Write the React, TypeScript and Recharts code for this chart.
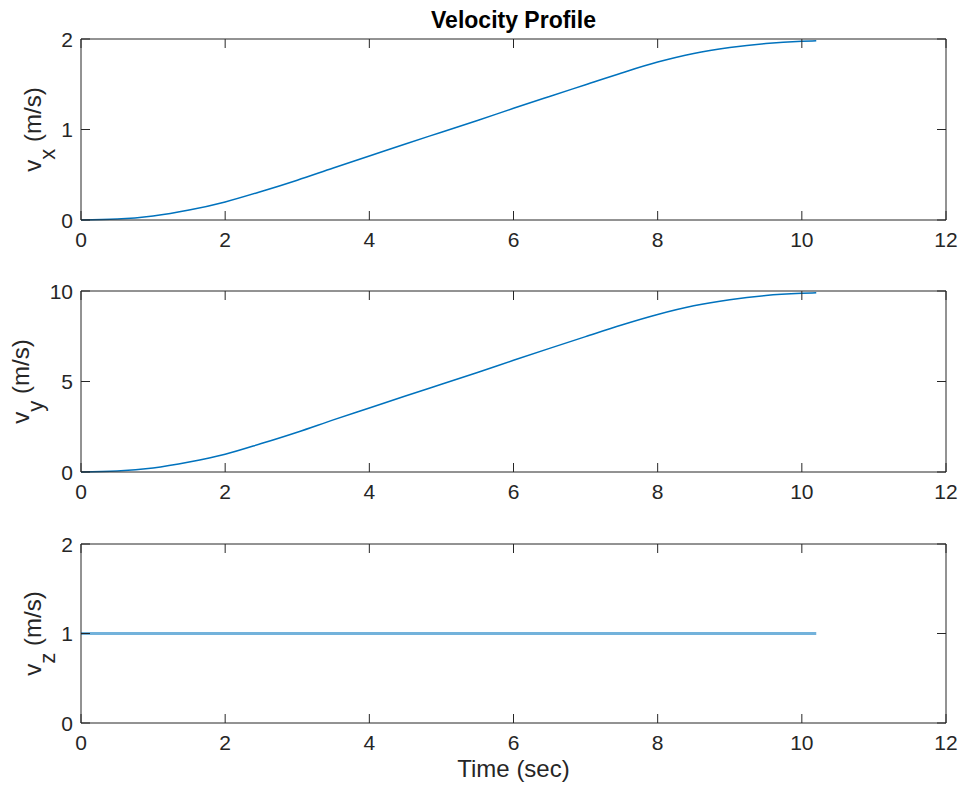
import React from "react";
import { LineChart, Line, XAxis, YAxis, Label } from "recharts";

const timeSec = [0, 0.5, 1, 1.5, 2, 2.5, 3, 3.5, 4, 4.5, 5, 5.5, 6, 6.5, 7, 7.5, 8, 8.5, 9, 9.5, 10, 10.2];
const vxValues = [0, 0.01, 0.045, 0.11, 0.2, 0.315, 0.44, 0.575, 0.707, 0.84, 0.97, 1.1, 1.234, 1.365, 1.495, 1.625, 1.745, 1.84, 1.905, 1.95, 1.975, 1.98];
const vyValues = [0, 0.05, 0.22, 0.55, 0.98, 1.57, 2.2, 2.88, 3.54, 4.2, 4.85, 5.5, 6.17, 6.83, 7.48, 8.12, 8.7, 9.18, 9.52, 9.75, 9.87, 9.9];
const vzValues = [1, 1, 1, 1, 1, 1, 1, 1, 1, 1, 1, 1, 1, 1, 1, 1, 1, 1, 1, 1, 1, 1];

const xTicks = [0, 2, 4, 6, 8, 10, 12];
const vxTicks = [0, 1, 2];
const vyTicks = [0, 5, 10];
const vzTicks = [0, 1, 2];

const titleText = "Velocity Profile";
const xLabelText = "Time (sec)";

const data = timeSec.map((t, i) => ({ t, vx: vxValues[i], vy: vyValues[i], vz: vzValues[i] }));

const AXIS = "#262626";
const LINE = "#0072BD";
const FONT = "'Liberation Sans', Arial, Helvetica, sans-serif";
const TICK_LEN = 9;
const TICK_FS = 21;
const LABEL_FS = 24;

const BottomTick = (props: any) => {
  const { x, y, payload } = props;
  return (
    <g>
      <line x1={x} x2={x} y1={y} y2={y - TICK_LEN} stroke={AXIS} strokeWidth={1} />
      <text x={x} y={y + 27} textAnchor="middle" fill={AXIS} fontSize={TICK_FS} fontFamily={FONT}>
        {payload.value}
      </text>
    </g>
  );
};

const TopTick = (props: any) => {
  const { x, y } = props;
  return <line x1={x} x2={x} y1={y} y2={y + TICK_LEN} stroke={AXIS} strokeWidth={1} />;
};

const LeftTick = (props: any) => {
  const { x, y, payload } = props;
  return (
    <g>
      <line x1={x} x2={x + TICK_LEN} y1={y} y2={y} stroke={AXIS} strokeWidth={1} />
      <text x={x - 8} y={y + 7.5} textAnchor="end" fill={AXIS} fontSize={TICK_FS} fontFamily={FONT}>
        {payload.value}
      </text>
    </g>
  );
};

const RightTick = (props: any) => {
  const { x, y } = props;
  return <line x1={x} x2={x - TICK_LEN} y1={y} y2={y} stroke={AXIS} strokeWidth={1} />;
};

type PanelProps = {
  dataKey: string;
  yDomain: [number, number];
  yTicks: number[];
  sub: string;
  top: number;
  plotH: number;
  bottomH: number;
  labelBaseX: number;
  title?: string;
  xLabel?: string;
  thick?: boolean;
};

const Panel = ({ dataKey, yDomain, yTicks, sub, top, plotH, bottomH, labelBaseX, title, xLabel, thick }: PanelProps) => {
  const marginTop = 38;
  const height = marginTop + 1 + plotH + bottomH;
  return (
    <div style={{ position: "absolute", left: 0, top: top - marginTop - 1, width: 964, height }}>
      <LineChart width={964} height={height} data={data} margin={{ top: marginTop, right: 17, bottom: 0, left: 0 }}>
        <XAxis
          xAxisId="b"
          dataKey="t"
          type="number"
          domain={[0, 12]}
          ticks={xTicks}
          interval={0}
          orientation="bottom"
          height={bottomH}
          tickSize={0}
          tickMargin={0}
          tickLine={false}
          axisLine={{ stroke: AXIS, strokeWidth: 1 }}
          tick={<BottomTick />}
        >
          {xLabel ? (
            <Label
              content={(p: any) => {
                const vb = p.viewBox;
                return (
                  <text x={vb.x + vb.width / 2} y={vb.y + 54} textAnchor="middle" fill={AXIS} fontSize={LABEL_FS} fontFamily={FONT}>
                    {xLabel}
                  </text>
                );
              }}
            />
          ) : null}
        </XAxis>
        <XAxis
          xAxisId="t"
          dataKey="t"
          type="number"
          domain={[0, 12]}
          ticks={xTicks}
          interval={0}
          orientation="top"
          height={1}
          tickSize={0}
          tickMargin={0}
          tickLine={false}
          axisLine={{ stroke: AXIS, strokeWidth: 1 }}
          tick={<TopTick />}
        >
          {title ? (
            <Label
              content={(p: any) => {
                const vb = p.viewBox;
                return (
                  <text x={vb.x + vb.width / 2} y={28} textAnchor="middle" fill="#000" fontSize={23} fontWeight="bold" fontFamily={FONT}>
                    {title}
                  </text>
                );
              }}
            />
          ) : null}
        </XAxis>
        <YAxis
          yAxisId="l"
          type="number"
          domain={yDomain}
          ticks={yTicks}
          interval={0}
          orientation="left"
          width={81}
          tickSize={0}
          tickMargin={0}
          tickLine={false}
          axisLine={{ stroke: AXIS, strokeWidth: 1 }}
          tick={<LeftTick />}
        >
          <Label
            content={(p: any) => {
              const vb = p.viewBox;
              const cy = vb.y + vb.height / 2;
              return (
                <text
                  transform={`translate(${labelBaseX}, ${cy}) rotate(-90)`}
                  x={0}
                  y={0}
                  textAnchor="middle"
                  fill={AXIS}
                  fontSize={LABEL_FS}
                  fontFamily={FONT}
                >
                  <tspan>v</tspan>
                  <tspan dy={14} fontSize={22}>{sub}</tspan>
                  <tspan dy={-14}>{" (m/s)"}</tspan>
                </text>
              );
            }}
          />
        </YAxis>
        <YAxis
          yAxisId="r"
          type="number"
          domain={yDomain}
          ticks={yTicks}
          interval={0}
          orientation="right"
          width={1}
          tickSize={0}
          tickMargin={0}
          tickLine={false}
          axisLine={{ stroke: AXIS, strokeWidth: 1 }}
          tick={<RightTick />}
        />
        <Line
          xAxisId="t"
          yAxisId="r"
          type="monotone"
          dataKey={dataKey}
          stroke="none"
          strokeWidth={0}
          dot={false}
          activeDot={false}
          legendType="none"
          isAnimationActive={false}
        />
        <Line
          xAxisId="b"
          yAxisId="l"
          type="monotone"
          dataKey={dataKey}
          stroke={LINE}
          strokeWidth={thick ? 3 : 1.5}
          strokeOpacity={thick ? 0.55 : 1}
          dot={false}
          activeDot={false}
          isAnimationActive={false}
        />
      </LineChart>
    </div>
  );
};

export default function App() {
  return (
    <div style={{ position: "absolute", left: 0, top: 0, width: 964, height: 787, background: "#fff", overflow: "hidden" }}>
      <Panel dataKey="vx" yDomain={[0, 2]} yTicks={vxTicks} sub="x" top={39} plotH={181} bottomH={45} labelBaseX={40.5} title={titleText} />
      <Panel dataKey="vy" yDomain={[0, 10]} yTicks={vyTicks} sub="y" top={291} plotH={181} bottomH={45} labelBaseX={28.5} />
      <Panel dataKey="vz" yDomain={[0, 2]} yTicks={vzTicks} sub="z" top={544} plotH={179} bottomH={64} labelBaseX={40.5} xLabel={xLabelText} thick />
    </div>
  );
}
